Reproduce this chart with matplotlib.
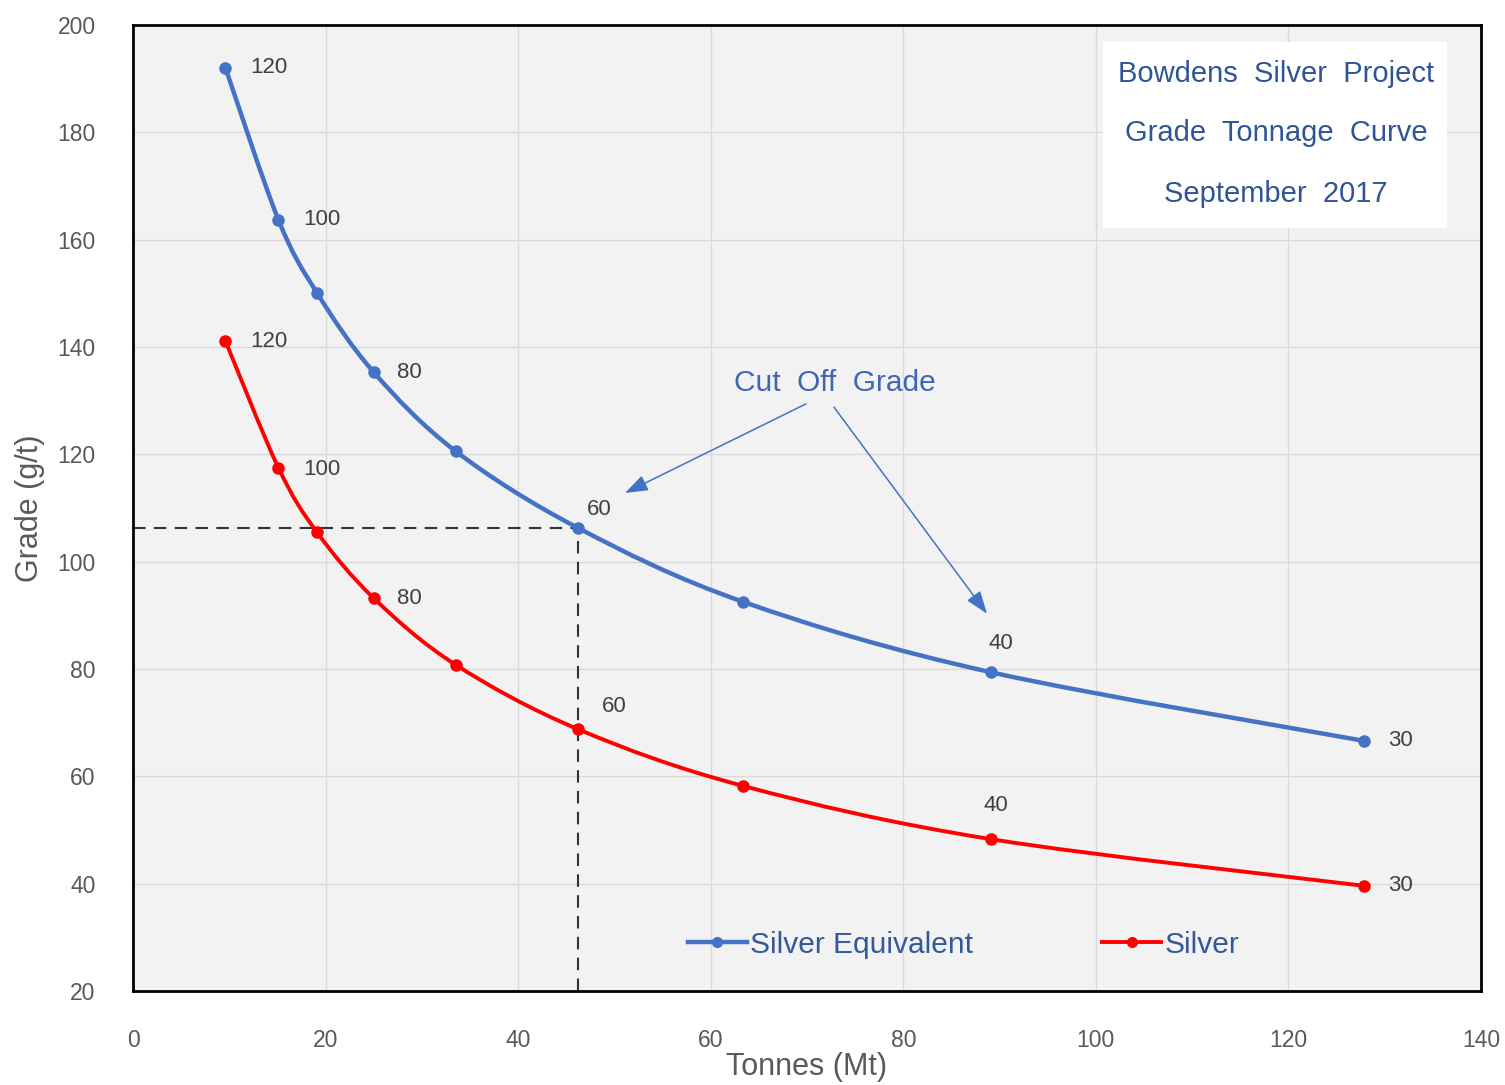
import numpy as np
import matplotlib.pyplot as plt
from matplotlib.path import Path
from matplotlib.patches import PathPatch, Rectangle
from matplotlib.lines import Line2D

plt.rcParams['font.family'] = ['Liberation Sans', 'DejaVu Sans']

# ── Data ─────────────────────────────────────────────────────────────────────
cutoff   = [120, 100, 90, 80, 70, 60, 50, 40, 30]
tonnes   = [9.6, 15.1, 19.1, 25.0, 33.5, 46.2, 63.4, 89.1, 127.9]
agEq     = [192.0, 163.7, 150.1, 135.3, 120.6, 106.3, 92.5, 79.4, 66.6]
ag       = [141.1, 117.5, 105.5, 93.2, 80.8, 68.8, 58.2, 48.3, 39.6]
labelled = [120, 100, 80, 60, 40, 30]

BLUE = "#4472C4"
RED = "#FF0000"
GREY = "#595959"


def smooth_path(x, y):
    """Excel-style smoothed line through the points (cubic Bezier segments)."""
    p = np.column_stack([x, y])
    n = len(p)
    verts = [p[0]]
    codes = [Path.MOVETO]
    for i in range(n - 1):
        p0 = p[i - 1] if i > 0 else p[i]
        p1, p2 = p[i], p[i + 1]
        p3 = p[i + 2] if i + 2 < n else p[i + 1]
        c1 = p1 + (p2 - p0) / 6.0
        c2 = p2 - (p3 - p1) / 6.0
        verts += [c1, c2, p2]
        codes += [Path.CURVE4] * 3
    return Path(verts, codes)


fig = plt.figure(figsize=(15.05, 10.85), dpi=100)
ax = fig.add_axes([0.0884, 0.0866, 0.8956, 0.8904])
ax.set_facecolor("#F2F2F2")

for yv, col, lw in [(agEq, BLUE, 3.2), (ag, RED, 2.8)]:
    ax.add_patch(PathPatch(smooth_path(tonnes, yv), fill=False, edgecolor=col,
                           linewidth=lw, capstyle="round", zorder=3))
    ax.plot(tonnes, yv, "o", color=col, markersize=8, zorder=4)

# point labels (cut-off grade)
blue_off = {120: (18, 0, "left"), 100: (18, 0, "left"), 80: (17, 0, "left"),
            60: (6.5, 13, "left"), 40: (7, 21, "center"), 30: (17, 0, "left")}
red_off = {120: (18, 0, "left"), 100: (18, -1, "left"), 80: (17, 0, "left"),
           60: (17, 16.5, "left"), 40: (3.6, 24, "center"), 30: (17, 0, "left")}
for yv, offs in [(agEq, blue_off), (ag, red_off)]:
    for c, xv, v in zip(cutoff, tonnes, yv):
        if c in labelled:
            dx, dy, ha = offs[c]
            ax.annotate(str(c), (xv, v), xytext=(dx, dy), textcoords="offset points",
                        ha=ha, va="center", fontsize=16, color="#404040", zorder=5)

# dashed guide lines at 60 g/t cut-off
i60 = cutoff.index(60)
ax.plot([0, tonnes[i60]], [agEq[i60], agEq[i60]], color="#333333", lw=1.5,
        dashes=(6, 4), zorder=2)
ax.plot([tonnes[i60], tonnes[i60]], [20, agEq[i60]], color="#333333", lw=1.5,
        dashes=(6, 4), zorder=2)

# Cut Off Grade annotation
ax.text(72.9, 133.3, "Cut  Off  Grade", ha="center", va="center",
        fontsize=21.5, color="#3F66B5")
arrow = dict(arrowstyle="-|>,head_length=0.7,head_width=0.25", color=BLUE,
             lw=1.1, mutation_scale=20, shrinkA=0, shrinkB=0)
ax.annotate("", xy=(51.1, 112.8), xytext=(69.9, 129.4), arrowprops=arrow)
ax.annotate("", xy=(88.7, 90.3), xytext=(72.8, 128.8), arrowprops=arrow)

# title box
ax.add_patch(Rectangle((0.7196, 0.790), 0.2554, 0.192, transform=ax.transAxes,
                       facecolor="white", edgecolor="none", zorder=5))
for txt, yy in [("Bowdens  Silver  Project", 0.949),
                ("Grade  Tonnage  Curve", 0.888),
                ("September  2017", 0.825)]:
    ax.text(0.848, yy, txt, transform=ax.transAxes, ha="center", va="center",
            fontsize=21, color="#2F5597", zorder=6)

ax.set_xlim(0, 140)
ax.set_ylim(20, 200)
ax.set_xticks(np.arange(0, 141, 20))
ax.set_yticks(np.arange(20, 201, 20))
ax.grid(True, color="#D9D9D9", linewidth=1)
ax.set_axisbelow(True)
ax.tick_params(length=0, labelsize=16.5, labelcolor=GREY, pad=27)
for s in ax.spines.values():
    s.set_linewidth(2)
    s.set_color("black")
ax.set_xlabel("Tonnes (Mt)", fontsize=22, color=GREY, labelpad=0)
ax.set_ylabel("Grade (g/t)", fontsize=22, color=GREY, labelpad=9)

handles = [Line2D([], [], color=BLUE, lw=3.2, marker="o", markersize=7),
           Line2D([], [], color=RED, lw=2.8, marker="o", markersize=7)]
leg = ax.legend(handles, ["Silver Equivalent", "Silver"], loc="center",
                bbox_to_anchor=(0.616, 0.048), ncol=2, frameon=False,
                fontsize=21.5, handlelength=2.0, handletextpad=0.1,
                columnspacing=4.3)
for t in leg.get_texts():
    t.set_color("#34589C")

fig.savefig("out.png", dpi=100)
